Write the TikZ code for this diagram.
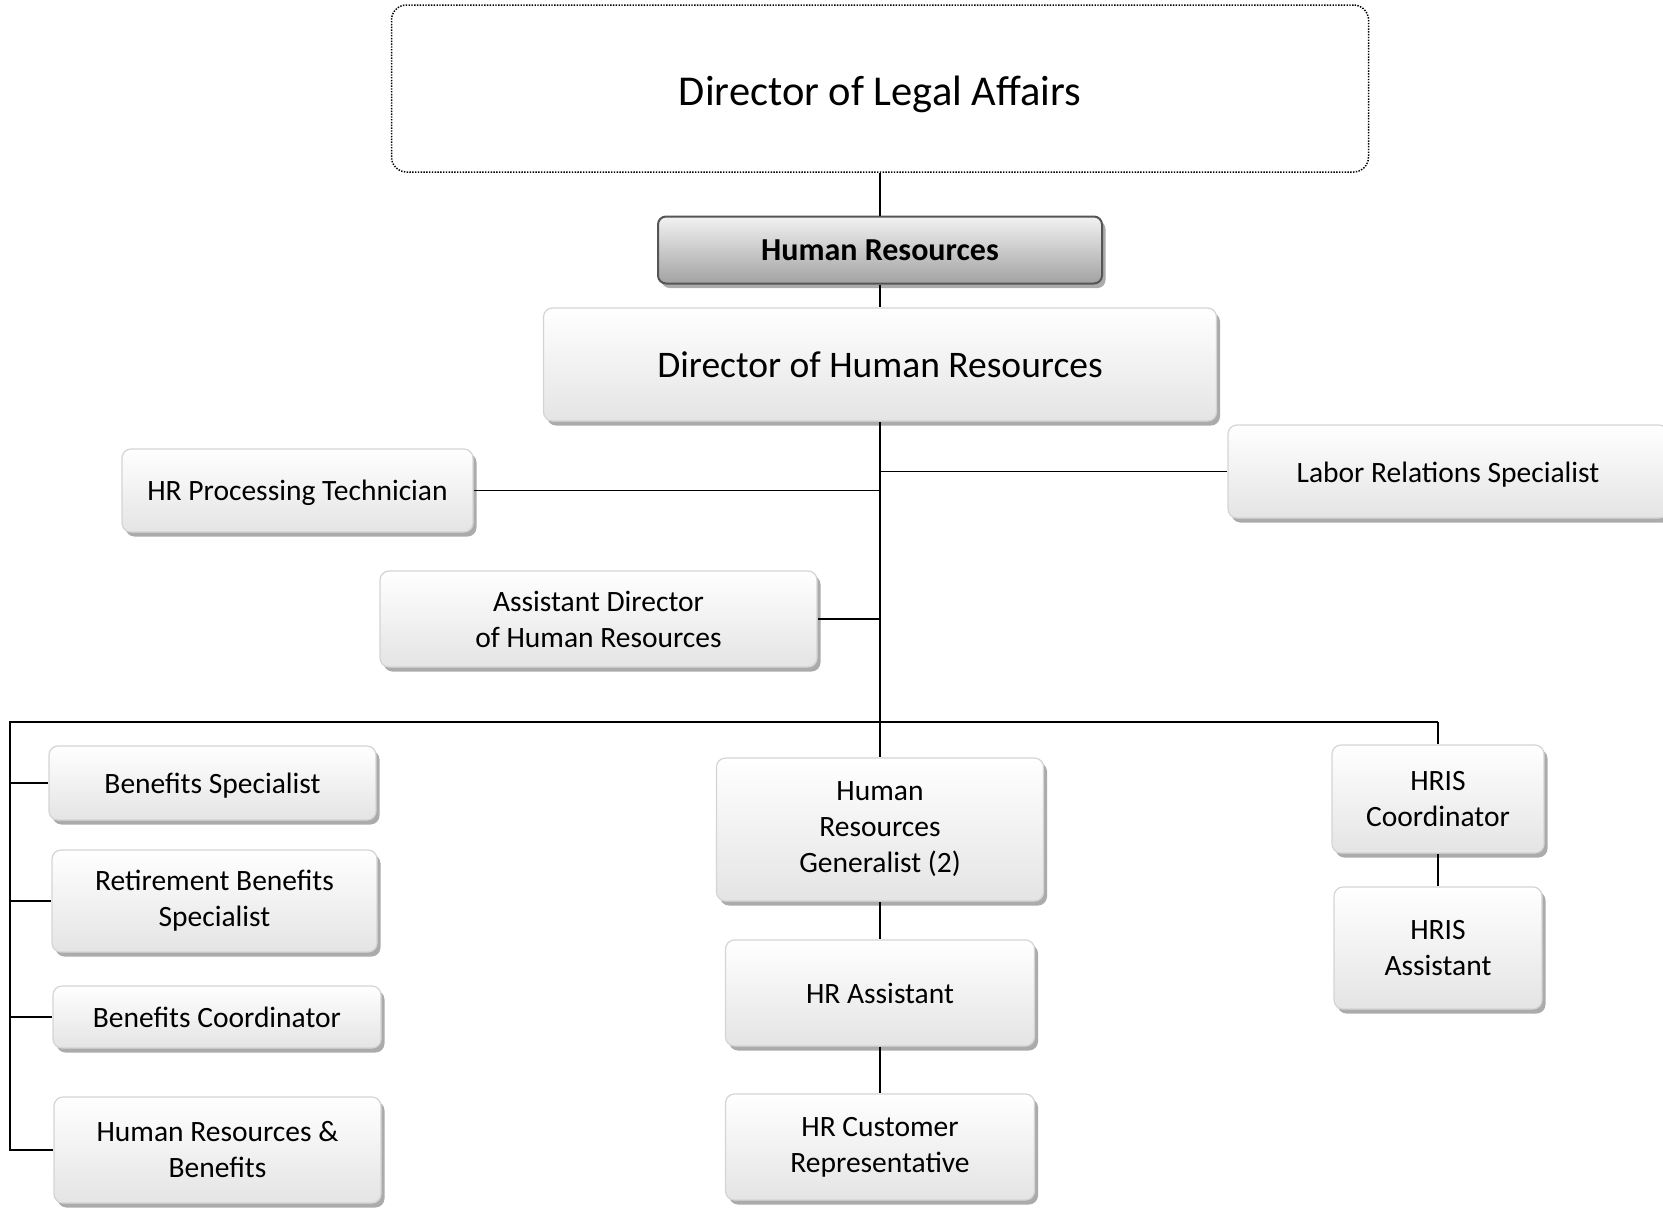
\documentclass[tikz,border=0pt]{standalone}
\usepackage{fontspec}
\setmainfont{Carlito}
\usetikzlibrary{shadows}
\definecolor{boxline}{HTML}{D4D4D4}
\definecolor{boxbottom}{HTML}{E4E4E4}
\definecolor{shadowgray}{HTML}{ABABAB}
\definecolor{headtop}{HTML}{F2F2F2}
\definecolor{headbottom}{HTML}{A2A2A2}
\definecolor{headline}{HTML}{555555}
\newcommand{\lowered}[2]{\raisebox{-#1}[\height][\depth]{#2}}
\begin{document}
\begin{tikzpicture}[x=1pt,y=-1pt,
  role/.style={rectangle, rounded corners=9pt, draw=boxline, line width=1.2pt,
    top color=white, bottom color=boxbottom,
    drop shadow={shadow xshift=3.5pt, shadow yshift=-4.5pt, fill=shadowgray, opacity=1},
    align=center, inner sep=0pt, font=\fontsize{29.5}{36}\selectfont},
  unit/.style={rectangle, rounded corners=8pt, draw=headline, line width=2pt,
    top color=headtop, bottom color=headbottom,
    drop shadow={shadow xshift=3.5pt, shadow yshift=-4.5pt, fill=shadowgray, opacity=1},
    align=center, inner sep=0pt, font=\fontsize{32}{38}\selectfont\bfseries},
  topbox/.style={rectangle, rounded corners=15pt, draw=black, line width=1.5pt,
    dash pattern=on 1.4pt off 1.4pt,
    fill=white, align=center, inner sep=0pt, font=\fontsize{42.5}{50}\selectfont},
  link/.style={line width=1.6pt, black}]
\useasboundingbox (0,0) rectangle (1663,1210);

% upper chain
\node[topbox, minimum width=977pt, minimum height=167pt] (legal) at (880,88.5) {\lowered{5.5pt}{Director of Legal Affairs}};
\node[unit, minimum width=444pt, minimum height=67pt] (hr) at (880,250) {Human Resources};
\node[role, minimum width=673pt, minimum height=113pt, font=\fontsize{37.5}{44}\selectfont] (dhr) at (880,364.5) {Director of Human Resources};

% staff positions beside the trunk
\node[role, minimum width=351pt, minimum height=83pt] (proc) at (297.5,490.5) {\lowered{2pt}{HR Processing Technician}};
\node[role, minimum width=440pt, minimum height=93pt] (labor) at (1448,471.5) {\lowered{3pt}{Labor Relations Specialist}};
\node[role, minimum width=437pt, minimum height=96pt] (adhr) at (598.5,619) {Assistant Director\\of Human Resources};

% benefits column
\node[role, minimum width=327pt, minimum height=74pt] (bspec) at (212.5,783) {\lowered{3pt}{Benefits Specialist}};
\node[role, minimum width=325pt, minimum height=102pt] (rbspec) at (214.5,901) {Retirement Benefits\\Specialist};
\node[role, minimum width=328pt, minimum height=62pt] (bcoord) at (217,1017) {Benefits Coordinator};
\node[role, minimum width=327pt, minimum height=106pt] (hrben) at (217.5,1150) {Human Resources \&\\Benefits};

% generalist column
\node[role, minimum width=327pt, minimum height=143pt] (gen) at (880,829.5) {Human\\Resources\\Generalist (2)};
\node[role, minimum width=309pt, minimum height=106pt] (hrasst) at (880,993) {HR Assistant};
\node[role, minimum width=309pt, minimum height=106pt] (hrcust) at (880,1147) {HR Customer\\Representative};

% HRIS column
\node[role, minimum width=212pt, minimum height=108pt] (hrisc) at (1438,799) {HRIS\\Coordinator};
\node[role, minimum width=208pt, minimum height=122pt] (hrisa) at (1438,948) {HRIS\\Assistant};

% connectors
\coordinate (bus) at (880,722);
\coordinate (busL) at (10,722);
\coordinate (busR) at (1438,722);

\draw[link] (legal.south) -- (hr.north);
\draw[link] (hr.south) -- (dhr.north);
\draw[link] (dhr.south) -- (gen.north);
\draw[link] (bus |- proc.east) -- (proc.east);
\draw[link] (bus |- labor.west) -- (labor.west);
\draw[link] (bus |- adhr.east) -- (adhr.east);
\draw[link] (busR) -- (busL) -- (busL |- hrben.west) -- (hrben.west);
\draw[link] (busL |- bspec.west) -- (bspec.west);
\draw[link] (busL |- rbspec.west) -- (rbspec.west);
\draw[link] (busL |- bcoord.west) -- (bcoord.west);
\draw[link] (busR) -- (hrisc.north);
\draw[link] (gen.south) -- (hrasst.north);
\draw[link] (hrasst.south) -- (hrcust.north);
\draw[link] (hrisc.south) -- (hrisa.north);
\end{tikzpicture}
\end{document}
